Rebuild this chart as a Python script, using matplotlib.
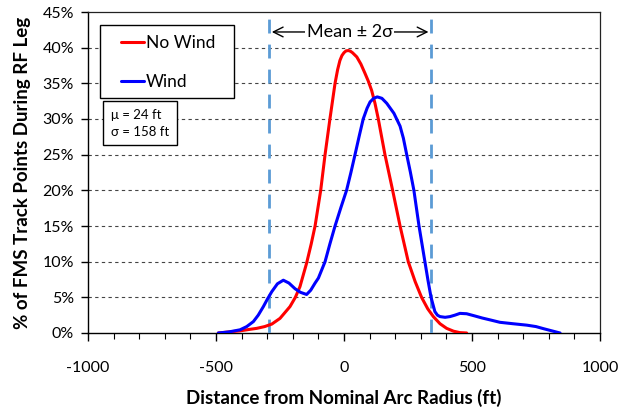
import matplotlib
matplotlib.use("Agg")
import matplotlib.pyplot as plt
from matplotlib.ticker import MultipleLocator, FuncFormatter
from matplotlib.patches import Rectangle

# Data (x in ft, y in %)
nowind_x = [-491, -450, -406, -370, -341, -310, -282, -250, -211, -190, -172, -146, -128, -113, -91, -74, -55, -35, -25, -16, -8, 0, 8, 17, 25, 33, 50, 66, 82, 95, 108, 121, 134, 160, 190, 219, 251, 278, 303, 327, 349, 375, 401, 428, 453, 479]
nowind_y = [0.0, 0.15, 0.3, 0.5, 0.65, 0.9, 1.25, 2.05, 3.7, 5.0, 6.5, 9.8, 12.5, 15.0, 20.0, 25.0, 30.0, 35.0, 36.9, 38.2, 38.9, 39.3, 39.55, 39.6, 39.5, 39.3, 38.7, 37.7, 36.4, 35.3, 34.0, 32.2, 30.0, 25.0, 20.0, 15.0, 10.0, 7.2, 5.0, 3.4, 2.3, 1.3, 0.65, 0.25, 0.05, 0.0]

wind_x = [-491, -450, -406, -380, -354, -335, -315, -300, -282, -260, -237, -215, -191, -170, -146, -130, -113, -100, -74, -55, -35, -12, 10, 27, 43, 60, 75, 90, 102, 116, 130, 148, 167, 195, 219, 232, 245, 259, 273, 283, 293, 305, 316, 328, 340, 355, 365, 375, 395, 414, 433, 453, 479, 510, 540, 575, 609, 660, 714, 750, 780, 812, 844]
wind_y = [0.0, 0.15, 0.45, 0.9, 1.6, 2.5, 3.7, 4.7, 5.8, 6.9, 7.4, 7.0, 6.2, 5.7, 5.4, 6.0, 7.0, 7.7, 10.0, 12.5, 15.0, 17.6, 20.0, 22.5, 25.0, 27.7, 30.0, 31.5, 32.4, 32.9, 33.1, 32.9, 32.2, 30.8, 29.0, 27.3, 25.0, 22.6, 20.0, 17.5, 15.0, 12.4, 10.0, 7.4, 5.0, 3.0, 2.5, 2.3, 2.2, 2.3, 2.5, 2.75, 2.7, 2.4, 2.1, 1.8, 1.5, 1.3, 1.1, 0.9, 0.6, 0.3, 0.0]

mu = 24
sigma = 158
series_names = ["No Wind", "Wind"]
series_colors = ["#ff0000", "#0000ff"]

plt.rcParams['font.family'] = ['Lato', 'DejaVu Sans']

fig = plt.figure(figsize=(6.19, 4.13), dpi=100)
ax = fig.add_axes([88/619, 1 - 333/413, (600-88)/619, (333-12)/413])

ax.plot(nowind_x, nowind_y, color=series_colors[0], lw=2.2, label=series_names[0],
        zorder=4, solid_joinstyle='round', solid_capstyle='round')
ax.plot(wind_x, wind_y, color=series_colors[1], lw=2.2, label=series_names[1],
        zorder=4, solid_joinstyle='round', solid_capstyle='round')

lo, hi = mu - 2*sigma, mu + 2*sigma
for xv in (lo, hi):
    ax.axvline(xv, color='#5b9bd5', lw=2, dashes=(5, 4), zorder=3)

ax.set_xlim(-1000, 1000)
ax.set_ylim(0, 45)
ax.xaxis.set_major_locator(MultipleLocator(500))
ax.xaxis.set_minor_locator(MultipleLocator(100))
ax.xaxis.set_major_formatter(FuncFormatter(lambda v, p: f"{int(round(v))}"))
ax.yaxis.set_major_locator(MultipleLocator(5))
ax.yaxis.set_major_formatter(FuncFormatter(lambda v, p: f"{int(round(v))}%"))
ax.tick_params(axis='x', which='major', direction='out', length=6, width=1, labelsize=11.5, pad=14)
ax.tick_params(axis='x', which='minor', direction='out', length=4, width=0.8)
ax.tick_params(axis='y', which='major', direction='out', length=5, width=1, labelsize=11.5, pad=5)

for yv in range(5, 45, 5):
    ax.axhline(yv, color='#444444', lw=0.8, dashes=(3, 3), zorder=1)

for s in ['left', 'bottom']:
    ax.spines[s].set_color('black')
    ax.spines[s].set_linewidth(1)
for s in ['top', 'right']:
    ax.spines[s].set_color('#222222')
    ax.spines[s].set_linewidth(0.9)

ax.set_xlabel("Distance from Nominal Arc Radius (ft)", fontsize=13.5, fontweight='bold', labelpad=10)
ax.set_ylabel("% of FMS Track Points During RF Leg", fontsize=13.5, fontweight='bold', labelpad=8)

# legend frame and entries
ax.add_patch(Rectangle(((100-88)/512, (333-98)/321), 134/512, 73/321, transform=ax.transAxes,
                       fc='white', ec='black', lw=1, zorder=5))
leg = ax.legend(loc='upper left', bbox_to_anchor=((121-88)/512, (333-35)/321), fontsize=12.5,
                frameon=False, handlelength=1.3, handletextpad=0.15, labelspacing=1.35,
                borderpad=0, borderaxespad=0)
leg.set_zorder(6)

ax.text(-910, 31.4, "\u03bc = 24 ft\n\u03c3 = 158 ft", fontsize=9.5, va='top', ha='left',
        linespacing=1.45,
        bbox=dict(boxstyle='square,pad=0.6', fc='white', ec='black', lw=1), zorder=5)

ymid = 42.2
ax.annotate("", xy=(lo + 10, ymid), xytext=(lo + 150, ymid),
            arrowprops=dict(arrowstyle='->,head_length=0.7,head_width=0.35', color='black',
                            lw=1, shrinkA=0, shrinkB=0), zorder=5)
ax.annotate("", xy=(hi - 10, ymid), xytext=(hi - 150, ymid),
            arrowprops=dict(arrowstyle='->,head_length=0.7,head_width=0.35', color='black',
                            lw=1, shrinkA=0, shrinkB=0), zorder=5)
ax.text((lo + hi)/2 - 2, ymid, "Mean \u00b1 2\u03c3", fontsize=13, ha='center', va='center',
        bbox=dict(boxstyle='square,pad=0.08', fc='white', ec='none'), zorder=6)

fig.savefig("out.png", dpi=100)
